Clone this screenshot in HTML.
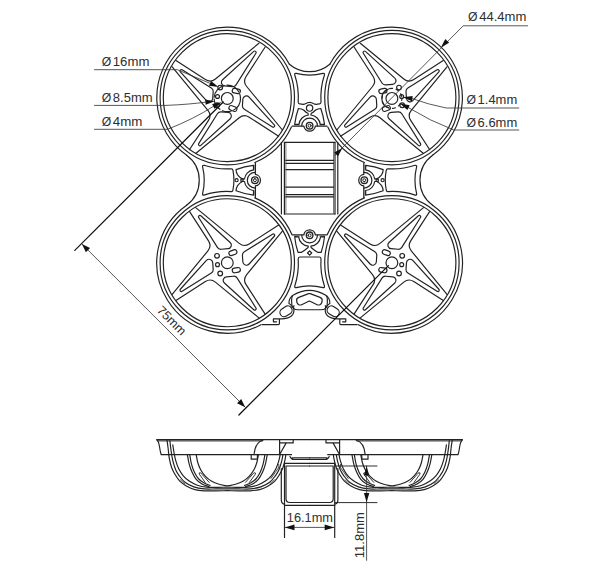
<!DOCTYPE html>
<html><head><meta charset="utf-8"><title>Frame dimensions</title>
<style>
html,body{margin:0;padding:0;background:#fff;}
body{width:600px;height:566px;overflow:hidden;}
svg{display:block;}
text{font-family:"Liberation Sans",sans-serif;font-size:12.4px;fill:#2e2e2e;stroke:none;}
</style></head><body>
<svg width="600" height="566" viewBox="0 0 600 566">
<rect width="600" height="566" fill="#fff"/>
<g fill="none" stroke="#222" stroke-width="1.18" stroke-linecap="round" stroke-linejoin="round">
<defs><g id="ringpat"><g transform="rotate(0)"><path d="M-37.85,-51.35L-18.8,-21.91A8.5,8.5 0 0 1 -19.37,-11.9L-55.1,31.6"/><path d="M-28.61,-45.19A1.4,1.4 0 0 1 -26.48,-46.97L2.9,-20.3A3.6,3.6 0 0 1 0.77,-14.05L-6.19,-13.48A4,4 0 0 1 -9.9,-15.35Z"/></g><g transform="rotate(90)"><path d="M-37.85,-51.35L-18.8,-21.91A8.5,8.5 0 0 1 -19.37,-11.9L-55.1,31.6"/><path d="M-28.61,-45.19A1.4,1.4 0 0 1 -26.48,-46.97L1.26,-21.79A3.6,3.6 0 0 1 -0.93,-15.53L-7.3,-15.13A4,4 0 0 1 -10.94,-17Z"/></g><g transform="rotate(180)"><path d="M-37.85,-51.35L-18.8,-21.91A8.5,8.5 0 0 1 -19.37,-11.9L-55.1,31.6"/><path d="M-28.61,-45.19A1.4,1.4 0 0 1 -26.48,-46.97L2.9,-20.3A3.6,3.6 0 0 1 0.77,-14.05L-6.19,-13.48A4,4 0 0 1 -9.9,-15.35Z"/></g><g transform="rotate(270)"><path d="M-37.85,-51.35L-18.8,-21.91A8.5,8.5 0 0 1 -19.37,-11.9L-55.1,31.6"/><path d="M-28.61,-45.19A1.4,1.4 0 0 1 -26.48,-46.97L2.29,-20.86A3.6,3.6 0 0 1 0.14,-14.6L-6.6,-14.1A4,4 0 0 1 -10.29,-15.97Z"/></g></g><g id="ringpatTL"><g transform="rotate(0)"><path d="M-37.85,-51.35L-18.8,-21.91A8.5,8.5 0 0 1 -19.37,-11.9L-55.1,31.6"/><path d="M-28.61,-45.19A1.4,1.4 0 0 1 -26.48,-46.97L2.9,-20.3A3.6,3.6 0 0 1 0.77,-14.05L-6.19,-13.48A4,4 0 0 1 -9.9,-15.35Z"/></g><g transform="rotate(90)"><path d="M-37.85,-51.35L-18.8,-21.91A8.5,8.5 0 0 1 -19.37,-11.9L-55.1,31.6"/><path d="M-28.61,-45.19A1.4,1.4 0 0 1 -26.48,-46.97L1.26,-21.79A3.6,3.6 0 0 1 -0.93,-15.53L-7.3,-15.13A4,4 0 0 1 -10.94,-17Z"/></g><g transform="rotate(180)"><path d="M-37.85,-51.35L-18.8,-21.91A8.5,8.5 0 0 1 -19.37,-11.9L-55.1,31.6"/><path d="M-28.61,-45.19A1.4,1.4 0 0 1 -26.48,-46.97L4.69,-18.68A3.6,3.6 0 0 1 2.63,-12.44L-4.97,-11.67A4,4 0 0 1 -8.76,-13.53Z"/></g><g transform="rotate(270)"><path d="M-37.85,-51.35L-18.8,-21.91A8.5,8.5 0 0 1 -19.37,-11.9L-55.1,31.6"/><path d="M-28.61,-45.19A1.4,1.4 0 0 1 -26.48,-46.97L2.29,-20.86A3.6,3.6 0 0 1 0.14,-14.6L-6.6,-14.1A4,4 0 0 1 -10.29,-15.97Z"/></g></g><g id="holes"><circle r="5.9"/><circle cx="-10.3" cy="-6.9" r="2.35"/><circle cx="-9.8" cy="1.9" r="1.95"/><circle cx="-7.1" cy="10.8" r="2.35"/><rect x="-4.1" y="-2.3" width="8.2" height="4.6" rx="2.3" transform="translate(5.6,-10.1) rotate(-20)"/><rect x="-4.1" y="-2.3" width="8.2" height="4.6" rx="2.3" transform="translate(9,7.4) rotate(-10)"/></g><g id="bridge"><path d="M-20.21,-115.99A31,31 0 0 0 20.21,-115.99"/><path d="M-13.4,-106.8A56,56 0 0 0 13.4,-106.8Q15,-107.2 14.9,-105.4A72,72 0 0 0 11.4,-78Q11.2,-76.3 10,-76.4Q6,-75.4 4.2,-76.4Q0,-79.4 -4.2,-76.4Q-6,-75.4 -10,-76.4Q-11.2,-76.3 -11.4,-78A72,72 0 0 0 -14.9,-105.4Q-15,-107.2 -13.4,-106.8Z"/><circle cx="0" cy="-72.1" r="3.15"/><path d="M-11.2,-71.7Q-8,-71.6 -6,-70.2Q-3.6,-67.6 -1.6,-66.9L-1.3,-65.2A10.5,10.5 0 0 0 -10.6,-55.9L-14.9,-55.9A72.3,72.3 0 0 1 -11.2,-71.7Z"/><path d="M-11.2,-71.7Q-8,-71.6 -6,-70.2Q-3.6,-67.6 -1.6,-66.9L-1.3,-65.2A10.5,10.5 0 0 0 -10.6,-55.9L-14.9,-55.9A72.3,72.3 0 0 1 -11.2,-71.7Z" transform="scale(-1,1)"/><path d="M-7.9,-54.2A7.9,7.9 0 0 1 7.9,-54.2"/><path d="M-17.3,-54L-5.75,-54A5.8,5.8 0 0 0 5.75,-54L17.3,-54" stroke-width="1.25"/><path d="M-15,-55.4L-10.4,-55.4M15,-55.4L10.4,-55.4" stroke-width="0.7"/><circle cx="0" cy="-54.5" r="3.3" stroke-width="1.35"/><circle cx="0" cy="-54.5" r="1.5" stroke-width="1.0"/></g><g id="bridgeS"><path d="M-24.96,-122.77A31,31 0 0 0 24.96,-122.77"/><path d="M-13.4,-106.8A56,56 0 0 0 13.4,-106.8Q15,-107.2 14.9,-105.4A72,72 0 0 0 11.4,-78Q11.3,-76.6 10,-76.5Q0,-74.4 -10,-76.5Q-11.3,-76.6 -11.4,-78A72,72 0 0 0 -14.9,-105.4Q-15,-107.2 -13.4,-106.8Z"/><circle cx="0" cy="-72.8" r="1.55"/><rect x="-1.1" y="-68.5" width="2.2" height="2.2"/><path d="M-10.6,-73.4Q-7.6,-73.2 -5.4,-71.8Q-2.6,-69.6 -1.3,-67L-1.3,-64.9A10.3,10.3 0 0 0 -10.3,-55.9L-14.9,-55.9A72.3,72.3 0 0 1 -10.6,-73.4Z"/><path d="M-10.6,-73.4Q-7.6,-73.2 -5.4,-71.8Q-2.6,-69.6 -1.3,-67L-1.3,-64.9A10.3,10.3 0 0 0 -10.3,-55.9L-14.9,-55.9A72.3,72.3 0 0 1 -10.6,-73.4Z" transform="scale(-1,1)"/><path d="M-7.9,-54.2A7.9,7.9 0 0 1 7.9,-54.2"/><path d="M-17.3,-54L-5.75,-54A5.8,5.8 0 0 0 5.75,-54L17.3,-54" stroke-width="1.25"/><path d="M-15,-55.4L-10.4,-55.4M15,-55.4L10.4,-55.4" stroke-width="0.7"/><circle cx="0" cy="-54.5" r="3.3" stroke-width="1.35"/><circle cx="0" cy="-54.5" r="1.5" stroke-width="1.0"/></g><g id="bridgeB"><path d="M-13.4,-106.8A56,56 0 0 0 13.4,-106.8Q15,-107.2 14.9,-105.4A72,72 0 0 0 11.4,-78Q11.2,-76.2 9.6,-76.2L-9.6,-76.2Q-11.2,-76.2 -11.4,-78A72,72 0 0 0 -14.9,-105.4Q-15,-107.2 -13.4,-106.8Z"/><path d="M0,-74.4L2.1,-72.2L0,-70L-2.1,-72.2Z"/><path d="M-11.6,-71.5L-8,-71.5Q-4.6,-69.4 -1.5,-66.7L-1.3,-65.4A10.8,10.8 0 0 0 -11,-56.1L-14.9,-55.9A72.3,72.3 0 0 1 -11.6,-71.5Z"/><path d="M-11.6,-71.5L-8,-71.5Q-4.6,-69.4 -1.5,-66.7L-1.3,-65.4A10.8,10.8 0 0 0 -11,-56.1L-14.9,-55.9A72.3,72.3 0 0 1 -11.6,-71.5Z" transform="scale(-1,1)"/><path d="M-7.9,-54.2A7.9,7.9 0 0 1 7.9,-54.2"/><path d="M-17.3,-54L-5.75,-54A5.8,5.8 0 0 0 5.75,-54L17.3,-54" stroke-width="1.25"/><path d="M-15,-55.4L-10.4,-55.4M15,-55.4L10.4,-55.4" stroke-width="0.7"/><circle cx="0" cy="-54.5" r="3.3" stroke-width="1.35"/><circle cx="0" cy="-54.5" r="1.5" stroke-width="1.0"/></g></defs>
<g id="topview"><circle cx="227.3" cy="262.75" r="64"/><circle cx="227.3" cy="262.75" r="67.2"/><g transform="translate(227.3,262.75) scale(1,1)"><use href="#ringpat"/><use href="#holes"/></g><circle cx="227.3" cy="97.6" r="64"/><circle cx="227.3" cy="97.6" r="67.2"/><g transform="translate(227.3,98.4) scale(1,-1)"><use href="#ringpatTL"/><use href="#holes"/></g><circle cx="391.9" cy="262.75" r="64"/><circle cx="391.9" cy="262.75" r="67.2"/><g transform="translate(391.9,262.75) scale(-1,1)"><use href="#ringpat"/><use href="#holes"/></g><circle cx="391.9" cy="97.6" r="64"/><circle cx="391.9" cy="97.6" r="67.2"/><g transform="translate(391.9,98.4) scale(-1,-1)"><use href="#ringpat"/><use href="#holes"/></g><path d="M289.39,64.21A70.5,70.5 0 1 0 186.65,155.2M254.85,162.5A70.5,70.5 0 0 0 291.4,126.95M186.63,205.16A70.5,70.5 0 0 0 260.94,324.71M254.85,197.85A70.5,70.5 0 0 1 291.9,234.53"/><path d="M289.39,64.21A70.5,70.5 0 1 0 186.65,155.2M254.85,162.5A70.5,70.5 0 0 0 291.4,126.95M186.63,205.16A70.5,70.5 0 0 0 260.94,324.71M254.85,197.85A70.5,70.5 0 0 1 291.9,234.53" transform="translate(619.2,0) scale(-1,1)"/><circle cx="227.3" cy="98.4" r="13.2" stroke-dasharray="14 2.5 9 3 12 2 16 3"/><path d="M388.48,107.8A10,10 0 0 1 388.48,89"/><circle cx="391.9" cy="98.4" r="10" stroke-dasharray="3 3.5" stroke-dashoffset="1"/><g transform="translate(309.6,180.2)"><use href="#bridge"/></g><g transform="translate(309.4,180.2) rotate(-90)"><use href="#bridgeS"/></g><g transform="translate(309.8,180.2) rotate(90)"><use href="#bridgeS"/></g><g transform="translate(309.6,180.8) rotate(180)"><use href="#bridgeB"/></g><path d="M281.4,142.3L281.4,214M337.8,142.3L337.8,214"/><path d="M284.4,142.3L284.4,214M335,142.3L335,214"/><path d="M285.9,143L285.9,213M333.5,143L333.5,213" stroke-width="0.6"/><path d="M284.4,142.3L335,142.3M284.4,214L335,214"/><path d="M285.9,160.4L333.5,160.4"/><path d="M285.9,163.3L333.5,163.3"/><path d="M285.9,169.7L333.5,169.7"/><path d="M285.9,187.2L333.5,187.2"/><path d="M285.9,194.6L333.5,194.6"/><path d="M285.9,196.9L333.5,196.9"/><path d="M293,295.2Q309.4,285.4 325.8,295.2Q327.6,297 327.4,300L327.2,304.5Q327,309.75 321,309.75L298,309.75Q292,309.75 291.8,304.5L291.6,300Q291.4,297 293,295.2Z"/><path d="M308.7,293.66A2,2 0 0 1 310.1,293.66L320.04,297.37A3.3,3.3 0 0 1 322.08,301.26L321.78,302.49A3.3,3.3 0 0 1 317.16,304.68L310.04,301.3A1.5,1.5 0 0 0 308.76,301.3L301.64,304.68A3.3,3.3 0 0 1 297.02,302.49L296.72,301.26A3.3,3.3 0 0 1 298.76,297.37Z"/><path d="M292.2,295.6Q288.6,299 289,303.6Q290.8,304.6 292.6,307"/><path d="M326.6,295.6Q330.2,299 329.8,303.6Q328,304.6 326.2,307"/><rect x="-6.4" y="-4.2" width="12.8" height="8.4" rx="4.2" transform="translate(286,311.3) rotate(-32)"/><rect x="-6.4" y="-4.2" width="12.8" height="8.4" rx="4.2" transform="translate(333.2,311.3) rotate(32)"/><path d="M262,324.6L278.4,324.6Q279.4,324.6 279.4,323.6L279.4,318.8L273.4,318.8L273.4,321.8L276.6,321.8M279.4,318.8Q287,319.4 291.4,316Q294.6,313 293.8,308.8Q293.2,306.6 294,305.6"/><path d="M262,324.6L278.4,324.6Q279.4,324.6 279.4,323.6L279.4,318.8L273.4,318.8L273.4,321.8L276.6,321.8M279.4,318.8Q287,319.4 291.4,316Q294.6,313 293.8,308.8Q293.2,306.6 294,305.6" transform="translate(619.2,0) scale(-1,1)"/></g>
<g id="sideview"><path d="M156.8,439.6L309.6,439.6" stroke-width="1.05"/><path d="M157.6,440.9L262.4,440.9" stroke-width="1.0"/><path d="M156.8,439.9Q158.6,441 159.4,446Q160.2,452 161.2,454.7L168.6,454.7"/><path d="M168.6,454.7L291.5,454.7"/><clipPath id="cpR"><rect x="150" y="430" width="77.3" height="80"/><rect x="227.2" y="454.8" width="90" height="60"/></clipPath><g clip-path="url(#cpR)"><path d="M167,440.25C167.2,441.71 167.82,445.99 168.2,449C168.58,452.01 168.72,455.18 169.3,458.3C169.88,461.42 170.72,464.97 171.7,467.7C172.68,470.43 173.85,472.47 175.2,474.7C176.55,476.93 177.87,479.17 179.8,481.1C181.73,483.03 184.27,484.88 186.8,486.3C189.33,487.72 192.08,488.85 195,489.6C197.92,490.35 200.8,490.6 204.3,490.8C207.8,491 212.17,490.82 216,490.8C219.83,490.78 223.53,490.7 227.3,490.7C231.07,490.7 234.77,490.78 238.6,490.8C242.43,490.82 246.8,491 250.3,490.8C253.8,490.6 256.68,490.35 259.6,489.6C262.52,488.85 265.27,487.72 267.8,486.3C270.33,484.88 272.87,483.03 274.8,481.1C276.73,479.17 278.05,476.93 279.4,474.7C280.75,472.47 281.92,470.43 282.9,467.7C283.88,464.97 284.72,461.42 285.3,458.3C285.88,455.18 286.02,452.01 286.4,449C286.78,445.99 287.4,441.71 287.6,440.25"/><path d="M169.9,440.8C170.08,442.37 170.52,446.88 171,450.2C171.48,453.52 172.01,457.4 172.8,460.7C173.59,464 174.68,467.48 175.75,470C176.82,472.52 177.71,473.76 179.25,475.8C180.79,477.84 182.57,480.4 185,482.25C187.43,484.1 190.58,485.79 193.8,486.9C197.02,488.01 200.6,488.57 204.3,488.9C208,489.23 212.17,488.92 216,488.9C219.83,488.88 223.53,488.8 227.3,488.8C231.07,488.8 234.77,488.88 238.6,488.9C242.43,488.92 246.6,489.23 250.3,488.9C254,488.57 257.58,488.01 260.8,486.9C264.02,485.79 267.18,484.1 269.6,482.25C272.03,480.4 273.81,477.84 275.35,475.8C276.89,473.76 277.78,472.52 278.85,470C279.93,467.48 281.01,464 281.8,460.7C282.59,457.4 283.12,453.52 283.6,450.2C284.08,446.88 284.52,442.37 284.7,440.8"/><path d="M172.8,444.9C173,446.17 173.51,449.87 174,452.5C174.49,455.13 174.97,457.98 175.75,460.7C176.53,463.42 177.44,466.28 178.7,468.8C179.96,471.32 181.55,473.75 183.3,475.8C185.05,477.85 186.87,479.53 189.2,481.1C191.53,482.67 194.38,484.18 197.3,485.2C200.22,486.22 203.2,486.85 206.7,487.2C210.2,487.55 214.87,487.3 218.3,487.3C221.73,487.3 224.3,487.2 227.3,487.2C230.3,487.2 232.87,487.3 236.3,487.3C239.73,487.3 244.4,487.55 247.9,487.2C251.4,486.85 254.38,486.22 257.3,485.2C260.22,484.18 263.07,482.67 265.4,481.1C267.73,479.53 269.55,477.85 271.3,475.8C273.05,473.75 274.64,471.32 275.9,468.8C277.16,466.28 278.07,463.42 278.85,460.7C279.63,457.98 280.11,455.13 280.6,452.5C281.09,449.87 281.6,446.17 281.8,444.9"/><path d="M196.2,454.8C196.48,456.17 197.13,460.47 197.9,463C198.67,465.53 199.53,467.77 200.8,470C202.07,472.23 203.75,474.55 205.5,476.4C207.25,478.25 209.17,479.83 211.3,481.1C213.43,482.37 215.97,483.25 218.3,484C220.63,484.75 223.8,485.32 225.3,485.6C226.8,485.88 226.63,485.7 227.3,485.7C227.97,485.7 227.8,485.88 229.3,485.6C230.8,485.32 233.97,484.75 236.3,484C238.63,483.25 241.17,482.37 243.3,481.1C245.43,479.83 247.35,478.25 249.1,476.4C250.85,474.55 252.53,472.23 253.8,470C255.07,467.77 255.93,465.53 256.7,463C257.47,460.47 258.12,456.17 258.4,454.8"/><path d="M187.4,454.8C187.7,456.37 188.42,461.28 189.2,464.2C189.98,467.12 190.93,469.78 192.1,472.3C193.27,474.82 194.55,477.35 196.2,479.3C197.85,481.25 199.87,482.78 202,484C204.13,485.22 207.83,486.17 209,486.6"/><path d="M189.75,454.8C190.04,456.37 190.72,461.28 191.5,464.2C192.28,467.12 193.23,469.88 194.4,472.3C195.57,474.73 196.94,477 198.5,478.75C200.06,480.5 201.83,481.69 203.75,482.8C205.67,483.91 208.96,484.97 210,485.4"/><path d="M205.2,482.4L199.3,474.2Q198.5,472.5 200.2,472.7Q201.3,473 201.9,474.2L209.2,482.4" stroke-width="0.9"/><path d="M180.4,479.8L184.6,483.6" stroke-width="0.7"/><g transform="translate(454.6,0) scale(-1,1)"><path d="M187.4,454.8C187.7,456.37 188.42,461.28 189.2,464.2C189.98,467.12 190.93,469.78 192.1,472.3C193.27,474.82 194.55,477.35 196.2,479.3C197.85,481.25 199.87,482.78 202,484C204.13,485.22 207.83,486.17 209,486.6"/><path d="M189.75,454.8C190.04,456.37 190.72,461.28 191.5,464.2C192.28,467.12 193.23,469.88 194.4,472.3C195.57,474.73 196.94,477 198.5,478.75C200.06,480.5 201.83,481.69 203.75,482.8C205.67,483.91 208.96,484.97 210,485.4"/><path d="M205.2,482.4L199.3,474.2Q198.5,472.5 200.2,472.7Q201.3,473 201.9,474.2L209.2,482.4" stroke-width="0.9"/><path d="M180.4,479.8L184.6,483.6" stroke-width="0.7"/></g></g><path d="M254,454.7C254.6,447 257.6,441.6 263,440.2"/><path d="M251.2,454.7L251.2,459.2L257.4,459.2L257.4,454.7"/><path d="M279.6,439.9L279.6,454.7M279.6,442.9L293.2,442.9L293.2,439.9M286.2,442.9L279.8,454.2"/><path d="M281.3,468.6L281.3,500Q281.3,503.4 284.5,504.4M284.5,462.8L284.5,537.4M284.5,463.4L309.6,463.4"/><path d="M286,466L286,498.8Q286,502.5 289.8,502.5L309.6,502.5M284.5,505.4L309.6,505.4M286,466L309.6,466"/><path d="M290,456.4Q291.4,459.5 293.6,459.5L309.6,459.5M292.2,457.9L309.6,457.9" stroke-width="1.15"/><path d="M278.8,464.4Q279.4,466 278.4,468L271,478.4" stroke-width="0.8"/><g transform="translate(619.2,0) scale(-1,1)"><path d="M156.8,439.6L309.6,439.6" stroke-width="1.05"/><path d="M157.6,440.9L262.4,440.9" stroke-width="1.0"/><path d="M156.8,439.9Q158.6,441 159.4,446Q160.2,452 161.2,454.7L168.6,454.7"/><path d="M168.6,454.7L291.5,454.7"/><clipPath id="cpR"><rect x="150" y="430" width="77.3" height="80"/><rect x="227.2" y="454.8" width="90" height="60"/></clipPath><g clip-path="url(#cpR)"><path d="M167,440.25C167.2,441.71 167.82,445.99 168.2,449C168.58,452.01 168.72,455.18 169.3,458.3C169.88,461.42 170.72,464.97 171.7,467.7C172.68,470.43 173.85,472.47 175.2,474.7C176.55,476.93 177.87,479.17 179.8,481.1C181.73,483.03 184.27,484.88 186.8,486.3C189.33,487.72 192.08,488.85 195,489.6C197.92,490.35 200.8,490.6 204.3,490.8C207.8,491 212.17,490.82 216,490.8C219.83,490.78 223.53,490.7 227.3,490.7C231.07,490.7 234.77,490.78 238.6,490.8C242.43,490.82 246.8,491 250.3,490.8C253.8,490.6 256.68,490.35 259.6,489.6C262.52,488.85 265.27,487.72 267.8,486.3C270.33,484.88 272.87,483.03 274.8,481.1C276.73,479.17 278.05,476.93 279.4,474.7C280.75,472.47 281.92,470.43 282.9,467.7C283.88,464.97 284.72,461.42 285.3,458.3C285.88,455.18 286.02,452.01 286.4,449C286.78,445.99 287.4,441.71 287.6,440.25"/><path d="M169.9,440.8C170.08,442.37 170.52,446.88 171,450.2C171.48,453.52 172.01,457.4 172.8,460.7C173.59,464 174.68,467.48 175.75,470C176.82,472.52 177.71,473.76 179.25,475.8C180.79,477.84 182.57,480.4 185,482.25C187.43,484.1 190.58,485.79 193.8,486.9C197.02,488.01 200.6,488.57 204.3,488.9C208,489.23 212.17,488.92 216,488.9C219.83,488.88 223.53,488.8 227.3,488.8C231.07,488.8 234.77,488.88 238.6,488.9C242.43,488.92 246.6,489.23 250.3,488.9C254,488.57 257.58,488.01 260.8,486.9C264.02,485.79 267.18,484.1 269.6,482.25C272.03,480.4 273.81,477.84 275.35,475.8C276.89,473.76 277.78,472.52 278.85,470C279.93,467.48 281.01,464 281.8,460.7C282.59,457.4 283.12,453.52 283.6,450.2C284.08,446.88 284.52,442.37 284.7,440.8"/><path d="M172.8,444.9C173,446.17 173.51,449.87 174,452.5C174.49,455.13 174.97,457.98 175.75,460.7C176.53,463.42 177.44,466.28 178.7,468.8C179.96,471.32 181.55,473.75 183.3,475.8C185.05,477.85 186.87,479.53 189.2,481.1C191.53,482.67 194.38,484.18 197.3,485.2C200.22,486.22 203.2,486.85 206.7,487.2C210.2,487.55 214.87,487.3 218.3,487.3C221.73,487.3 224.3,487.2 227.3,487.2C230.3,487.2 232.87,487.3 236.3,487.3C239.73,487.3 244.4,487.55 247.9,487.2C251.4,486.85 254.38,486.22 257.3,485.2C260.22,484.18 263.07,482.67 265.4,481.1C267.73,479.53 269.55,477.85 271.3,475.8C273.05,473.75 274.64,471.32 275.9,468.8C277.16,466.28 278.07,463.42 278.85,460.7C279.63,457.98 280.11,455.13 280.6,452.5C281.09,449.87 281.6,446.17 281.8,444.9"/><path d="M196.2,454.8C196.48,456.17 197.13,460.47 197.9,463C198.67,465.53 199.53,467.77 200.8,470C202.07,472.23 203.75,474.55 205.5,476.4C207.25,478.25 209.17,479.83 211.3,481.1C213.43,482.37 215.97,483.25 218.3,484C220.63,484.75 223.8,485.32 225.3,485.6C226.8,485.88 226.63,485.7 227.3,485.7C227.97,485.7 227.8,485.88 229.3,485.6C230.8,485.32 233.97,484.75 236.3,484C238.63,483.25 241.17,482.37 243.3,481.1C245.43,479.83 247.35,478.25 249.1,476.4C250.85,474.55 252.53,472.23 253.8,470C255.07,467.77 255.93,465.53 256.7,463C257.47,460.47 258.12,456.17 258.4,454.8"/><path d="M187.4,454.8C187.7,456.37 188.42,461.28 189.2,464.2C189.98,467.12 190.93,469.78 192.1,472.3C193.27,474.82 194.55,477.35 196.2,479.3C197.85,481.25 199.87,482.78 202,484C204.13,485.22 207.83,486.17 209,486.6"/><path d="M189.75,454.8C190.04,456.37 190.72,461.28 191.5,464.2C192.28,467.12 193.23,469.88 194.4,472.3C195.57,474.73 196.94,477 198.5,478.75C200.06,480.5 201.83,481.69 203.75,482.8C205.67,483.91 208.96,484.97 210,485.4"/><path d="M205.2,482.4L199.3,474.2Q198.5,472.5 200.2,472.7Q201.3,473 201.9,474.2L209.2,482.4" stroke-width="0.9"/><path d="M180.4,479.8L184.6,483.6" stroke-width="0.7"/><g transform="translate(454.6,0) scale(-1,1)"><path d="M187.4,454.8C187.7,456.37 188.42,461.28 189.2,464.2C189.98,467.12 190.93,469.78 192.1,472.3C193.27,474.82 194.55,477.35 196.2,479.3C197.85,481.25 199.87,482.78 202,484C204.13,485.22 207.83,486.17 209,486.6"/><path d="M189.75,454.8C190.04,456.37 190.72,461.28 191.5,464.2C192.28,467.12 193.23,469.88 194.4,472.3C195.57,474.73 196.94,477 198.5,478.75C200.06,480.5 201.83,481.69 203.75,482.8C205.67,483.91 208.96,484.97 210,485.4"/><path d="M205.2,482.4L199.3,474.2Q198.5,472.5 200.2,472.7Q201.3,473 201.9,474.2L209.2,482.4" stroke-width="0.9"/><path d="M180.4,479.8L184.6,483.6" stroke-width="0.7"/></g></g><path d="M254,454.7C254.6,447 257.6,441.6 263,440.2"/><path d="M251.2,454.7L251.2,459.2L257.4,459.2L257.4,454.7"/><path d="M279.6,439.9L279.6,454.7M279.6,442.9L293.2,442.9L293.2,439.9M286.2,442.9L279.8,454.2"/><path d="M281.3,468.6L281.3,500Q281.3,503.4 284.5,504.4M284.5,462.8L284.5,537.4M284.5,463.4L309.6,463.4"/><path d="M286,466L286,498.8Q286,502.5 289.8,502.5L309.6,502.5M284.5,505.4L309.6,505.4M286,466L309.6,466"/><path d="M290,456.4Q291.4,459.5 293.6,459.5L309.6,459.5M292.2,457.9L309.6,457.9" stroke-width="1.15"/><path d="M278.8,464.4Q279.4,466 278.4,468L271,478.4" stroke-width="0.8"/></g></g>
<g id="dims"><path d="M94.5,69.7L177.4,69.7L211,83.8" stroke="#3a3a3a" stroke-width="0.85"/><path d="M94.5,105.4L166,105.4Q190,104.4 206,102.1" stroke="#3a3a3a" stroke-width="0.85"/><path d="M94.5,129.3L167.5,129.3Q194,119 213.6,106.2" stroke="#3a3a3a" stroke-width="0.85"/><path d="M527.6,25.8L463.2,25.8L334.6,155.6" stroke="#3a3a3a" stroke-width="0.85"/><path d="M518.8,108L446.2,108Q428,104.4 412,98.6" stroke="#3a3a3a" stroke-width="0.85"/><path d="M518.8,130L453.8,130Q430,121 408,107.4" stroke="#3a3a3a" stroke-width="0.85"/><path d="M81.9,244L245.2,407.2" stroke="#3a3a3a" stroke-width="0.85"/><path d="M74.8,250.4L223.2,102M238.9,415L388.4,265.6" stroke="#111" stroke-width="1.25"/><path d="M284.8,527.4L334.4,527.4" stroke="#3a3a3a" stroke-width="0.85"/><path d="M366.6,466L366.6,560.4" stroke="#3a3a3a" stroke-width="0.85"/><path d="M336,466L377,466M335,502.6L377,502.6" stroke="#222" stroke-width="0.95"/><path d="M218.5,87L209.01,85.81L211.04,81.03Z" fill="#111" stroke="none"/><path d="M214.6,101.2L205.72,104.74L205.18,99.58Z" fill="#111" stroke="none"/><path d="M221.5,102.2L214.48,108.69L212.12,104.06Z" fill="#111" stroke="none"/><path d="M440.9,47.4L445.26,39.07L449.14,42.87Z" fill="#111" stroke="none"/><path d="M342.4,148L338.04,156.33L334.16,152.53Z" fill="#111" stroke="none"/><path d="M402.8,97.3L412.67,96.07L411.95,101.21Z" fill="#111" stroke="none"/><path d="M399.9,103.4L409.67,105.28L407.39,109.94Z" fill="#111" stroke="none"/><path d="M81.9,244L90.07,248L85.9,252.17Z" fill="#111" stroke="none"/><path d="M245.2,407.2L237.03,403.2L241.2,399.03Z" fill="#111" stroke="none"/><path d="M284.9,527.4L294.5,524.45L294.5,530.35Z" fill="#111" stroke="none"/><path d="M334.3,527.4L324.7,530.35L324.7,524.45Z" fill="#111" stroke="none"/><path d="M366.6,466.2L369.31,475.4L363.89,475.4Z" fill="#111" stroke="none"/><path d="M366.6,502.2L363.89,493L369.31,493Z" fill="#111" stroke="none"/><text x="101.7" y="66.4" font-size="12.4" textLength="9.5" lengthAdjust="spacingAndGlyphs">&#216;</text><text x="112.8" y="66.4" font-size="12.4" textLength="36.6" lengthAdjust="spacingAndGlyphs">16mm</text><text x="101.7" y="101.5" font-size="12.4" textLength="9.5" lengthAdjust="spacingAndGlyphs">&#216;</text><text x="112.8" y="101.5" font-size="12.4" textLength="39.8" lengthAdjust="spacingAndGlyphs">8.5mm</text><text x="101.7" y="125.7" font-size="12.4" textLength="9.5" lengthAdjust="spacingAndGlyphs">&#216;</text><text x="112.8" y="125.7" font-size="12.4" textLength="29.6" lengthAdjust="spacingAndGlyphs">4mm</text><text x="468.1" y="21.2" font-size="12.4" textLength="9.5" lengthAdjust="spacingAndGlyphs">&#216;</text><text x="479.2" y="21.2" font-size="12.4" textLength="47.2" lengthAdjust="spacingAndGlyphs">44.4mm</text><text x="466.5" y="104" font-size="12.4" textLength="9.5" lengthAdjust="spacingAndGlyphs">&#216;</text><text x="477.6" y="104" font-size="12.4" textLength="39.6" lengthAdjust="spacingAndGlyphs">1.4mm</text><text x="466.5" y="126.5" font-size="12.4" textLength="9.5" lengthAdjust="spacingAndGlyphs">&#216;</text><text x="477.6" y="126.5" font-size="12.4" textLength="39.6" lengthAdjust="spacingAndGlyphs">6.6mm</text><text x="286.8" y="522.2" font-size="13" textLength="46.2" lengthAdjust="spacingAndGlyphs">16.1mm</text><g transform="translate(156.2,311.0) rotate(45)"><text x="0" y="0" font-size="12.8" textLength="35.4" lengthAdjust="spacingAndGlyphs">75mm</text></g><g transform="translate(364.4,558.2) rotate(-90)"><text x="0" y="0" font-size="13" textLength="46" lengthAdjust="spacingAndGlyphs">11.8mm</text></g></g>
</g>
</svg>
</body></html>
